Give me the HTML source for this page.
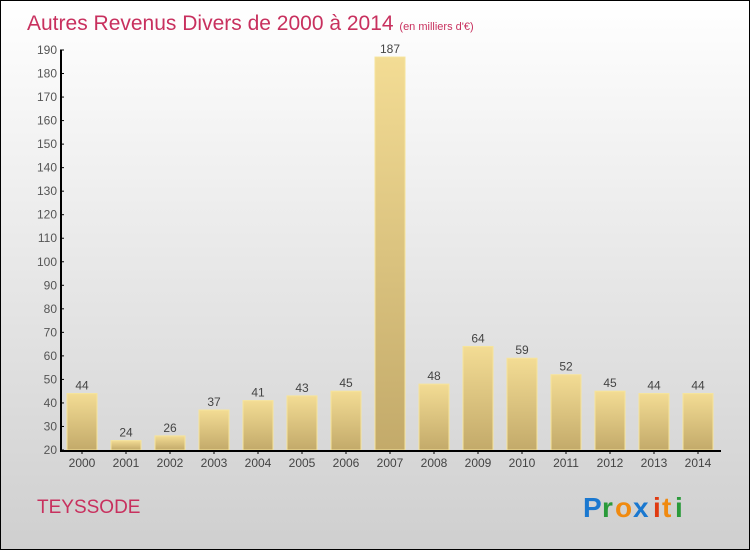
<!DOCTYPE html>
<html><head><meta charset="utf-8"><style>
body{margin:0}
#c{position:relative;width:748px;height:548px;border:1px solid #000;background:linear-gradient(#ffffff,#cfcfcf);font-family:"Liberation Sans",sans-serif;overflow:hidden}
</style></head><body>
<div id="c">
<svg id="s" width="748" height="548" style="position:absolute;left:0;top:0">
<defs><linearGradient id="g" x1="0" y1="0" x2="0" y2="1"><stop offset="0" stop-color="#f3dc94"/><stop offset="1" stop-color="#c3aa6a"/></linearGradient></defs>
<text x="26" y="29" font-size="21" fill="#c8305e">Autres Revenus Divers de 2000 à 2014 <tspan font-size="11">(en milliers d'€)</tspan></text>
<text x="36" y="512" font-size="19" fill="#c8305e">TEYSSODE</text>
<g id="logo" font-size="28" font-weight="bold">
<text x="582" y="516" fill="#1a78d0">P</text><text x="601" y="516" fill="#2a9a3a">r</text><text x="614" y="516" fill="#f08a10">o</text><text x="632" y="516" fill="#1a78d0">x</text><text x="652" y="516" fill="#e03a10">i</text><text x="661" y="516" fill="#f08a10">t</text><text x="674" y="516" fill="#2a9a3a">i</text>
</g>
</svg>
</div>
<script>
const categories=["2000","2001","2002","2003","2004","2005","2006","2007","2008","2009","2010","2011","2012","2013","2014"];
const values=[44,24,26,37,41,43,45,187,48,64,59,52,45,44,44];
const yTicks=[20,30,40,50,60,70,80,90,100,110,120,130,140,150,160,170,180,190];
const s=document.getElementById('s');const NS='http://www.w3.org/2000/svg';
const y=v=>449-(v-20)*400/170;
const x=i=>81+i*44;
function el(t,a,txt){const e=document.createElementNS(NS,t);for(const k in a)e.setAttribute(k,a[k]);if(txt!=null)e.textContent=txt;s.appendChild(e);return e;}
values.forEach((v,i)=>{
const b=el('rect',{x:x(i)-15,y:y(v),width:30,height:y(20)-y(v),fill:'url(#g)',stroke:'#f6e49c','stroke-width':1});


const t=el('text',{x:x(i),y:y(v)-4,'text-anchor':'middle','font-size':12,fill:'#444'},v);


const c=el('text',{x:x(i),y:466,'text-anchor':'middle','font-size':12,fill:'#444'},categories[i]);


el('line',{x1:x(i),x2:x(i),y1:449,y2:453,stroke:'#000'});
});
yTicks.forEach(v=>{
const t=el('text',{x:56,y:y(v)+4,'text-anchor':'end','font-size':12,fill:'#555'},v);


el('line',{x1:59,x2:63,y1:y(v),y2:y(v),stroke:'#000'});
});
const ya=el('line',{x1:60,x2:60,y1:y(190),y2:450,stroke:'#000','stroke-width':2});


const xa=el('line',{x1:59,x2:720,y1:450,y2:450,stroke:'#000','stroke-width':2});


</script>
</body></html>
